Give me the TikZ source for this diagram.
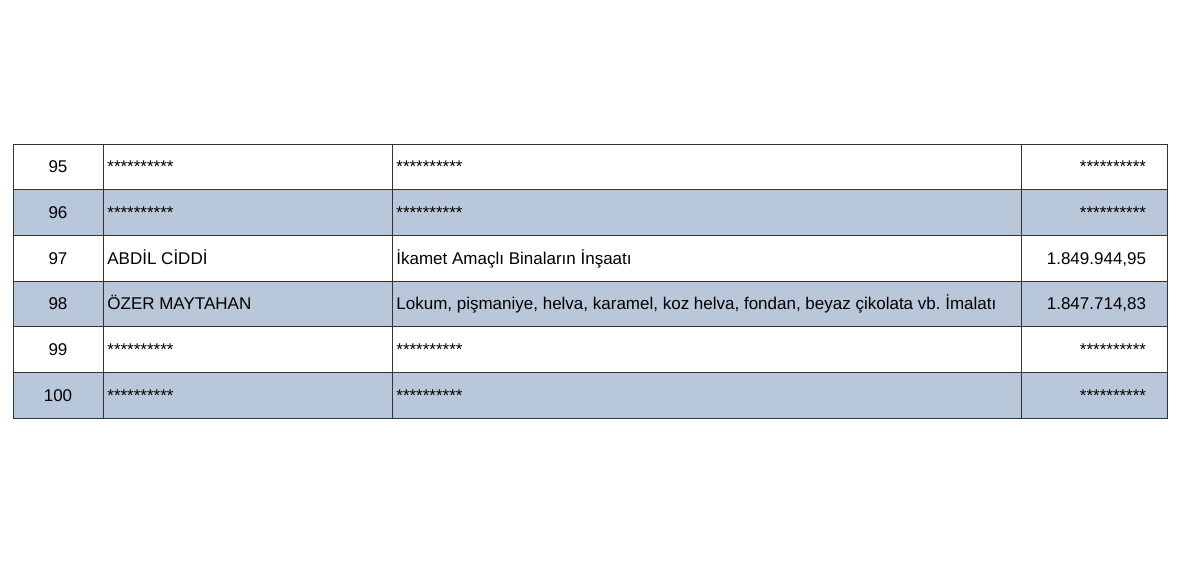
\documentclass[tikz,border=0pt]{standalone}
\usepackage{fontspec}
\setmainfont{Liberation Sans}
\usetikzlibrary{positioning}
\definecolor{rowblue}{HTML}{B8C7DA}
\definecolor{gridline}{HTML}{333333}
\frenchspacing

\begin{document}
\begin{tikzpicture}[x=0.5pt, y=-0.5pt]
    \tikzset{
        cell/.style = {inner sep=0pt, anchor=base, font=\fontsize{8.5}{10}\selectfont},
        line/.style = {draw=gridline, line width=0.5pt},
        shade/.style = {fill=rowblue},
    }
    \useasboundingbox (0,0) rectangle (1196,584);

    % shaded rows
    \path [shade] (13,189.7) rectangle (1167,235.3);
    \path [shade] (13,281) rectangle (1167,326.7);
    \path [shade] (13,372.3) rectangle (1167,418);

    % grid
    \path [line] (13,144) rectangle (1167,418);
    \foreach \y in {189.7,235.3,281,326.7,372.3}
        \path [line] (13,\y) -- (1167,\y);
    \foreach \x in {103,392,1021}
        \path [line] (\x,144) -- (\x,418);

    % row 95
    \node[cell](n95) at (58,172.8){95};
    \node[cell, anchor=base west](name95) at (107,172.8){**********};
    \node[cell, anchor=base west](desc95) at (396,172.8){**********};
    \node[cell, anchor=base east](amt95) at (1146.5,172.8){**********};

    % row 96
    \node[cell](n96) at (58,218.5){96};
    \node[cell, anchor=base west](name96) at (107,218.5){**********};
    \node[cell, anchor=base west](desc96) at (396,218.5){**********};
    \node[cell, anchor=base east](amt96) at (1146.5,218.5){**********};

    % row 97
    \node[cell](n97) at (58,264.1){97};
    \node[cell, anchor=base west](name97) at (107,264.1){ABDİL CİDDİ};
    \node[cell, anchor=base west](desc97) at (396,264.1){İkamet Amaçlı Binaların İnşaatı};
    \node[cell, anchor=base east](amt97) at (1146.5,264.1){1.849.944,95};

    % row 98
    \node[cell](n98) at (58,309.8){98};
    \node[cell, anchor=base west](name98) at (107,309.8){ÖZER MAYTAHAN};
    \node[cell, anchor=base west](desc98) at (396,309.8){Lokum, pişmaniye, helva, karamel, koz helva, fondan, beyaz çikolata vb. İmalatı};
    \node[cell, anchor=base east](amt98) at (1146.5,309.8){1.847.714,83};

    % row 99
    \node[cell](n99) at (58,355.5){99};
    \node[cell, anchor=base west](name99) at (107,355.5){**********};
    \node[cell, anchor=base west](desc99) at (396,355.5){**********};
    \node[cell, anchor=base east](amt99) at (1146.5,355.5){**********};

    % row 100
    \node[cell](n100) at (58,401.1){100};
    \node[cell, anchor=base west](name100) at (107,401.1){**********};
    \node[cell, anchor=base west](desc100) at (396,401.1){**********};
    \node[cell, anchor=base east](amt100) at (1146.5,401.1){**********};

\end{tikzpicture}
\end{document}
